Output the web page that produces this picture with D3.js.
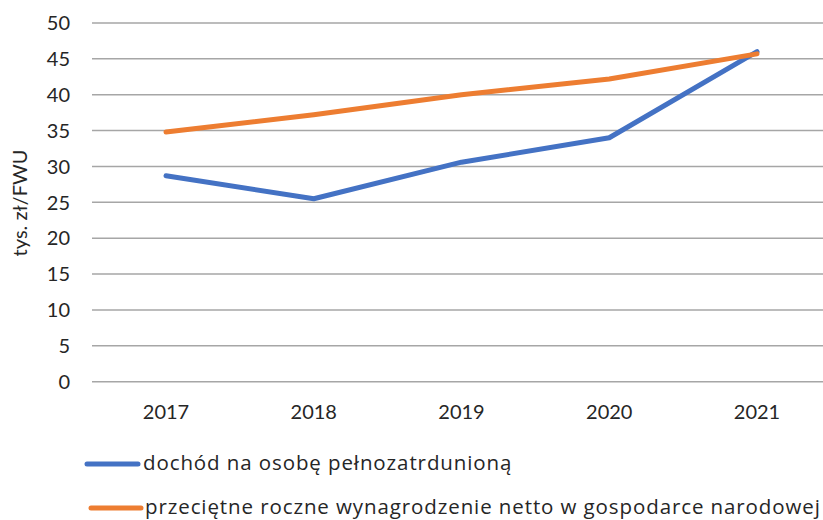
<!DOCTYPE html>
<html lang="pl">
<head>
    <meta charset="UTF-8">
    <title>Dochód na osobę pełnozatrudnioną</title>
    <script src="https://d3js.org/d3.v7.min.js"></script>
    <style>
        body {
            margin: 0;
            background-color: #fff;
        }
        svg {
            display: block;
            font-family: Lato, "Open Sans", sans-serif;
        }
        .grid line {
            stroke: #a6a6a6;
            stroke-width: 1.5px;
        }
        .tick-label {
            fill: #262626;
            font-size: 20px;
        }
        .legend-label {
            fill: #262626;
            font-family: "Open Sans", sans-serif;
            font-size: 20.5px;
            letter-spacing: 0.9px;
        }
        .series {
            fill: none;
            stroke-width: 5px;
            stroke-linejoin: round;
            stroke-linecap: round;
        }
    </style>
</head>
<body>
    <div id="chart"></div>

    <script>
        const years = ["2017", "2018", "2019", "2020", "2021"];
        const dochod = [28.7, 25.5, 30.6, 34.0, 46.0];
        const wynagrodzenie = [34.8, 37.2, 40.0, 42.2, 45.7];
        const yTicks = [0, 5, 10, 15, 20, 25, 30, 35, 40, 45, 50];
        const seriesNames = [
            "dochód na osobę pełnozatrdunioną",
            "przeciętne roczne wynagrodzenie netto w gospodarce narodowej"
        ];
        const colors = ["#4472c4", "#ed7d31"];

        const width = 823, height = 520;
        const plotLeft = 92, plotRight = 823;

        const svg = d3.select("#chart").append("svg")
            .attr("width", width)
            .attr("height", height);

        const x = d3.scalePoint()
            .domain(years)
            .range([166, 757]);

        const y = d3.scaleLinear()
            .domain([0, 50])
            .range([381.7, 23]);

        // gridlines
        svg.append("g")
            .attr("class", "grid")
            .selectAll("line")
            .data(yTicks)
            .enter().append("line")
            .attr("x1", plotLeft)
            .attr("x2", plotRight)
            .attr("y1", d => y(d))
            .attr("y2", d => y(d));

        // y tick labels
        svg.append("g")
            .selectAll("text")
            .data(yTicks)
            .enter().append("text")
            .attr("class", "tick-label")
            .attr("x", 70)
            .attr("y", d => y(d))
            .attr("dy", "0.36em")
            .attr("text-anchor", "end")
            .text(d => d);

        // x tick labels
        svg.append("g")
            .selectAll("text")
            .data(years)
            .enter().append("text")
            .attr("class", "tick-label")
            .attr("x", d => x(d))
            .attr("y", 419)
            .attr("text-anchor", "middle")
            .text(d => d);

        // axis title
        svg.append("text")
            .attr("class", "tick-label")
            .attr("transform", "translate(27,203) rotate(-90)")
            .attr("text-anchor", "middle")
            .text("tys. zł/FWU");

        const line = d3.line()
            .x((d, i) => x(years[i]))
            .y(d => y(d));

        [dochod, wynagrodzenie].forEach((values, i) => {
            svg.append("path")
                .attr("class", "series")
                .attr("stroke", colors[i])
                .attr("d", line(values));
        });

        // legend
        const legendRows = [
            { x1: 87, x2: 138, y: 464, tx: 143 },
            { x1: 91, x2: 141, y: 508, tx: 145 }
        ];
        const legend = svg.append("g")
            .selectAll("g")
            .data(seriesNames)
            .enter().append("g");

        legend.append("line")
            .attr("x1", (d, i) => legendRows[i].x1)
            .attr("x2", (d, i) => legendRows[i].x2)
            .attr("y1", (d, i) => legendRows[i].y)
            .attr("y2", (d, i) => legendRows[i].y)
            .attr("stroke", (d, i) => colors[i])
            .attr("stroke-width", 5)
            .attr("stroke-linecap", "round");

        legend.append("text")
            .attr("class", "legend-label")
            .attr("x", (d, i) => legendRows[i].tx)
            .attr("y", (d, i) => legendRows[i].y)
            .attr("dy", "0.3em")
            .text(d => d);
    </script>
</body>
</html>
